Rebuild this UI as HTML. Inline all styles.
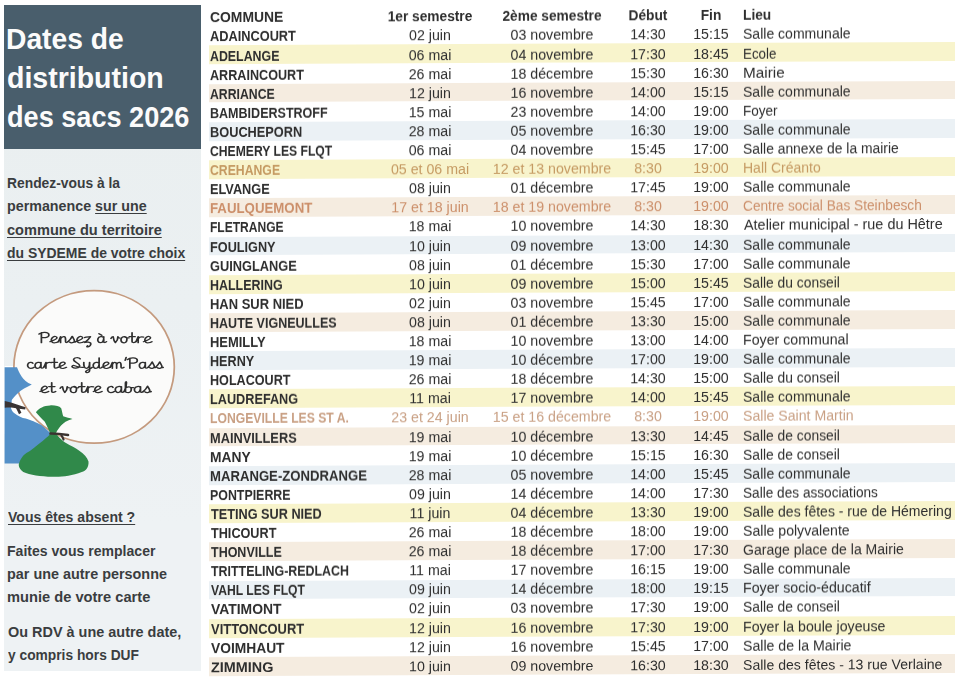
<!DOCTYPE html><html><head><meta charset="utf-8"><style>
html,body{margin:0;padding:0;background:#fff;width:960px;height:677px;overflow:hidden;position:relative}
.t{position:absolute;white-space:pre;font-family:"Liberation Sans",sans-serif;line-height:normal}
.b{font-weight:bold}

</style></head><body><div style="position:absolute;left:0;top:0;width:960px;height:677px;filter:blur(0.35px)">
<div style="position:absolute;left:4.2px;top:5px;width:197px;height:666px;background:linear-gradient(#f1f4f5 0px, #eaeff0 120px, #ebf0f2 300px, #eef2f4 520px)"></div>
<div style="position:absolute;left:4.2px;top:5px;width:197px;height:143.8px;background:#495e6c"></div>
<div class="t b" style="left:6.09px;top:22.89px;font-size:28.6px;color:#fbfbfb;transform:scaleX(0.9878);transform-origin:0 0">Dates de</div>
<div class="t b" style="left:6.94px;top:62.49px;font-size:28.6px;color:#fbfbfb;transform:scaleX(0.9971);transform-origin:0 0">distribution</div>
<div class="t b" style="left:6.99px;top:101.09px;font-size:28.6px;color:#fbfbfb;transform:scaleX(0.9481);transform-origin:0 0">des sacs 2026</div>
<div class="t b" style="left:7.07px;top:174.68px;font-size:14.8px;color:#3a3d3f;transform:scaleX(0.9352);transform-origin:0 0">Rendez-vous à la</div>
<div class="t b" style="left:7.04px;top:198.43px;font-size:14.8px;color:#3a3d3f;transform:scaleX(0.9651);transform-origin:0 0">permanence <span style="text-decoration:underline;text-decoration-thickness:1px;text-underline-offset:2px">sur une</span></div>
<div class="t b" style="left:7.28px;top:221.98px;font-size:14.8px;color:#3a3d3f;transform:scaleX(0.9854);transform-origin:0 0"><span style="text-decoration:underline;text-decoration-thickness:1px;text-underline-offset:2px">commune du territoire</span></div>
<div class="t b" style="left:7.26px;top:244.88px;font-size:14.8px;color:#3a3d3f;transform:scaleX(0.9421);transform-origin:0 0"><span style="text-decoration:underline;text-decoration-thickness:1px;text-underline-offset:2px">du SYDEME de votre choix</span></div>
<div class="t b" style="left:8.33px;top:509.28px;font-size:14.8px;color:#3a3d3f;transform:scaleX(0.9508);transform-origin:0 0"><span style="text-decoration:underline;text-decoration-thickness:1px;text-underline-offset:2px">Vous êtes absent ?</span></div>
<div class="t b" style="left:7.46px;top:542.98px;font-size:14.8px;color:#3a3d3f;transform:scaleX(0.9498);transform-origin:0 0">Faites vous remplacer</div>
<div class="t b" style="left:7.44px;top:565.58px;font-size:14.8px;color:#3a3d3f;transform:scaleX(0.9727);transform-origin:0 0">par une autre personne</div>
<div class="t b" style="left:7.40px;top:588.98px;font-size:14.8px;color:#3a3d3f;transform:scaleX(0.9903);transform-origin:0 0">munie de votre carte</div>
<div class="t b" style="left:7.65px;top:624.08px;font-size:14.8px;color:#3a3d3f;transform:scaleX(0.9758);transform-origin:0 0">Ou RDV à une autre date,</div>
<div class="t b" style="left:8.33px;top:646.68px;font-size:14.8px;color:#3a3d3f;transform:scaleX(0.9316);transform-origin:0 0">y compris hors DUF</div>
<div style="position:absolute;left:0;top:0;width:960px;height:677px;transform:skewY(-0.25deg);transform-origin:240px 0">
<div style="position:absolute;left:209px;top:45.47px;width:745.5px;height:18.80px;background:#f8f4cc"></div>
<div style="position:absolute;left:209px;top:83.69px;width:745.5px;height:18.80px;background:#f5ece0"></div>
<div style="position:absolute;left:209px;top:121.91px;width:745.5px;height:18.80px;background:#ebf1f5"></div>
<div style="position:absolute;left:209px;top:160.13px;width:745.5px;height:18.80px;background:#f8f4cc"></div>
<div style="position:absolute;left:209px;top:198.35px;width:745.5px;height:18.80px;background:#f5ece0"></div>
<div style="position:absolute;left:209px;top:236.57px;width:745.5px;height:18.80px;background:#ebf1f5"></div>
<div style="position:absolute;left:209px;top:274.79px;width:745.5px;height:18.80px;background:#f8f4cc"></div>
<div style="position:absolute;left:209px;top:313.01px;width:745.5px;height:18.80px;background:#f5ece0"></div>
<div style="position:absolute;left:209px;top:351.24px;width:745.5px;height:18.80px;background:#ebf1f5"></div>
<div style="position:absolute;left:209px;top:389.46px;width:745.5px;height:18.80px;background:#f8f4cc"></div>
<div style="position:absolute;left:209px;top:427.68px;width:745.5px;height:18.80px;background:#f5ece0"></div>
<div style="position:absolute;left:209px;top:465.90px;width:745.5px;height:18.80px;background:#ebf1f5"></div>
<div style="position:absolute;left:209px;top:504.12px;width:745.5px;height:18.80px;background:#f8f4cc"></div>
<div style="position:absolute;left:209px;top:542.34px;width:745.5px;height:18.80px;background:#f5ece0"></div>
<div style="position:absolute;left:209px;top:580.56px;width:745.5px;height:18.80px;background:#ebf1f5"></div>
<div style="position:absolute;left:209px;top:618.78px;width:745.5px;height:18.80px;background:#f8f4cc"></div>
<div style="position:absolute;left:209px;top:657.00px;width:745.5px;height:18.80px;background:#f5ece0"></div>
<div class="t b" style="left:209.97px;top:9.32px;font-size:14px;color:#2e2e2e;transform:scaleX(0.9923);transform-origin:0 0">COMMUNE</div>
<div class="t b" style="left:280.3px;width:300px;text-align:center;top:9.32px;font-size:14px;color:#2e2e2e;transform:scaleX(0.9800)">1er semestre</div>
<div class="t b" style="left:402.1px;width:300px;text-align:center;top:9.32px;font-size:14px;color:#2e2e2e;transform:scaleX(0.9800)">2ème semestre</div>
<div class="t b" style="left:498.20000000000005px;width:300px;text-align:center;top:9.32px;font-size:14px;color:#2e2e2e;transform:scaleX(0.9800)">Début</div>
<div class="t b" style="left:561px;width:300px;text-align:center;top:9.32px;font-size:14px;color:#2e2e2e;transform:scaleX(0.9800)">Fin</div>
<div class="t b" style="left:743.00px;top:9.32px;font-size:14px;color:#2e2e2e;transform:scaleX(0.9800);transform-origin:0 0">Lieu</div>
<div class="t b" style="left:210.08px;top:28.42px;font-size:14px;color:#2e2e2e;transform:scaleX(0.9129);transform-origin:0 0">ADAINCOURT</div>
<div class="t" style="left:280.3px;width:300px;text-align:center;top:28.42px;font-size:14px;color:#2e2e2e;transform:scaleX(1.0150)">02 juin</div>
<div class="t" style="left:402.1px;width:300px;text-align:center;top:28.42px;font-size:14px;color:#2e2e2e;transform:scaleX(1.0150)">03 novembre</div>
<div class="t" style="left:498.20000000000005px;width:300px;text-align:center;top:28.42px;font-size:14px;color:#2e2e2e;transform:scaleX(1.0150)">14:30</div>
<div class="t" style="left:561px;width:300px;text-align:center;top:28.42px;font-size:14px;color:#2e2e2e;transform:scaleX(1.0150)">15:15</div>
<div class="t" style="left:743.14px;top:28.42px;font-size:14px;color:#2e2e2e;transform:scaleX(1.0022);transform-origin:0 0">Salle communale</div>
<div class="t b" style="left:210.10px;top:47.52px;font-size:14px;color:#2e2e2e;transform:scaleX(0.8838);transform-origin:0 0">ADELANGE</div>
<div class="t" style="left:280.3px;width:300px;text-align:center;top:47.52px;font-size:14px;color:#2e2e2e;transform:scaleX(1.0150)">06 mai</div>
<div class="t" style="left:402.1px;width:300px;text-align:center;top:47.52px;font-size:14px;color:#2e2e2e;transform:scaleX(1.0150)">04 novembre</div>
<div class="t" style="left:498.20000000000005px;width:300px;text-align:center;top:47.52px;font-size:14px;color:#2e2e2e;transform:scaleX(1.0150)">17:30</div>
<div class="t" style="left:561px;width:300px;text-align:center;top:47.52px;font-size:14px;color:#2e2e2e;transform:scaleX(1.0150)">18:45</div>
<div class="t" style="left:743.11px;top:47.52px;font-size:14px;color:#2e2e2e;transform:scaleX(0.9542);transform-origin:0 0">Ecole</div>
<div class="t b" style="left:210.09px;top:66.62px;font-size:14px;color:#2e2e2e;transform:scaleX(0.9005);transform-origin:0 0">ARRAINCOURT</div>
<div class="t" style="left:280.3px;width:300px;text-align:center;top:66.62px;font-size:14px;color:#2e2e2e;transform:scaleX(1.0150)">26 mai</div>
<div class="t" style="left:402.1px;width:300px;text-align:center;top:66.62px;font-size:14px;color:#2e2e2e;transform:scaleX(1.0150)">18 décembre</div>
<div class="t" style="left:498.20000000000005px;width:300px;text-align:center;top:66.62px;font-size:14px;color:#2e2e2e;transform:scaleX(1.0150)">15:30</div>
<div class="t" style="left:561px;width:300px;text-align:center;top:66.62px;font-size:14px;color:#2e2e2e;transform:scaleX(1.0150)">16:30</div>
<div class="t" style="left:742.98px;top:66.62px;font-size:14px;color:#2e2e2e;transform:scaleX(1.0920);transform-origin:0 0">Mairie</div>
<div class="t b" style="left:210.10px;top:85.72px;font-size:14px;color:#2e2e2e;transform:scaleX(0.8761);transform-origin:0 0">ARRIANCE</div>
<div class="t" style="left:280.3px;width:300px;text-align:center;top:85.72px;font-size:14px;color:#2e2e2e;transform:scaleX(1.0150)">12 juin</div>
<div class="t" style="left:402.1px;width:300px;text-align:center;top:85.72px;font-size:14px;color:#2e2e2e;transform:scaleX(1.0150)">16 novembre</div>
<div class="t" style="left:498.20000000000005px;width:300px;text-align:center;top:85.72px;font-size:14px;color:#2e2e2e;transform:scaleX(1.0150)">14:00</div>
<div class="t" style="left:561px;width:300px;text-align:center;top:85.72px;font-size:14px;color:#2e2e2e;transform:scaleX(1.0150)">15:15</div>
<div class="t" style="left:743.14px;top:85.72px;font-size:14px;color:#2e2e2e;transform:scaleX(1.0022);transform-origin:0 0">Salle communale</div>
<div class="t b" style="left:209.84px;top:104.82px;font-size:14px;color:#2e2e2e;transform:scaleX(0.8954);transform-origin:0 0">BAMBIDERSTROFF</div>
<div class="t" style="left:280.3px;width:300px;text-align:center;top:104.82px;font-size:14px;color:#2e2e2e;transform:scaleX(1.0150)">15 mai</div>
<div class="t" style="left:402.1px;width:300px;text-align:center;top:104.82px;font-size:14px;color:#2e2e2e;transform:scaleX(1.0150)">23 novembre</div>
<div class="t" style="left:498.20000000000005px;width:300px;text-align:center;top:104.82px;font-size:14px;color:#2e2e2e;transform:scaleX(1.0150)">14:00</div>
<div class="t" style="left:561px;width:300px;text-align:center;top:104.82px;font-size:14px;color:#2e2e2e;transform:scaleX(1.0150)">19:00</div>
<div class="t" style="left:743.09px;top:104.82px;font-size:14px;color:#2e2e2e;transform:scaleX(0.9666);transform-origin:0 0">Foyer</div>
<div class="t b" style="left:209.82px;top:123.92px;font-size:14px;color:#2e2e2e;transform:scaleX(0.9121);transform-origin:0 0">BOUCHEPORN</div>
<div class="t" style="left:280.3px;width:300px;text-align:center;top:123.92px;font-size:14px;color:#2e2e2e;transform:scaleX(1.0150)">28 mai</div>
<div class="t" style="left:402.1px;width:300px;text-align:center;top:123.92px;font-size:14px;color:#2e2e2e;transform:scaleX(1.0150)">05 novembre</div>
<div class="t" style="left:498.20000000000005px;width:300px;text-align:center;top:123.92px;font-size:14px;color:#2e2e2e;transform:scaleX(1.0150)">16:30</div>
<div class="t" style="left:561px;width:300px;text-align:center;top:123.92px;font-size:14px;color:#2e2e2e;transform:scaleX(1.0150)">19:00</div>
<div class="t" style="left:743.14px;top:123.92px;font-size:14px;color:#2e2e2e;transform:scaleX(1.0022);transform-origin:0 0">Salle communale</div>
<div class="t b" style="left:210.05px;top:143.02px;font-size:14px;color:#2e2e2e;transform:scaleX(0.8683);transform-origin:0 0">CHEMERY LES FLQT</div>
<div class="t" style="left:280.3px;width:300px;text-align:center;top:143.02px;font-size:14px;color:#2e2e2e;transform:scaleX(1.0150)">06 mai</div>
<div class="t" style="left:402.1px;width:300px;text-align:center;top:143.02px;font-size:14px;color:#2e2e2e;transform:scaleX(1.0150)">04 novembre</div>
<div class="t" style="left:498.20000000000005px;width:300px;text-align:center;top:143.02px;font-size:14px;color:#2e2e2e;transform:scaleX(1.0150)">15:45</div>
<div class="t" style="left:561px;width:300px;text-align:center;top:143.02px;font-size:14px;color:#2e2e2e;transform:scaleX(1.0150)">17:00</div>
<div class="t" style="left:743.15px;top:143.02px;font-size:14px;color:#2e2e2e;transform:scaleX(0.9906);transform-origin:0 0">Salle annexe de la mairie</div>
<div class="t b" style="left:210.05px;top:162.12px;font-size:14px;color:#c59a62;transform:scaleX(0.8742);transform-origin:0 0">CREHANGE</div>
<div class="t" style="left:280.3px;width:300px;text-align:center;top:162.12px;font-size:14px;color:#c59a62;transform:scaleX(1.0150)">05 et 06 mai</div>
<div class="t" style="left:402.1px;width:300px;text-align:center;top:162.12px;font-size:14px;color:#c59a62;transform:scaleX(1.0150)">12 et 13 novembre</div>
<div class="t" style="left:498.20000000000005px;width:300px;text-align:center;top:162.12px;font-size:14px;color:#c59a62;transform:scaleX(1.0150)">8:30</div>
<div class="t" style="left:561px;width:300px;text-align:center;top:162.12px;font-size:14px;color:#c59a62;transform:scaleX(1.0150)">19:00</div>
<div class="t" style="left:743.06px;top:162.12px;font-size:14px;color:#c59a62;transform:scaleX(0.9993);transform-origin:0 0">Hall Créanto</div>
<div class="t b" style="left:209.82px;top:181.22px;font-size:14px;color:#2e2e2e;transform:scaleX(0.9108);transform-origin:0 0">ELVANGE</div>
<div class="t" style="left:280.3px;width:300px;text-align:center;top:181.22px;font-size:14px;color:#2e2e2e;transform:scaleX(1.0150)">08 juin</div>
<div class="t" style="left:402.1px;width:300px;text-align:center;top:181.22px;font-size:14px;color:#2e2e2e;transform:scaleX(1.0150)">01 décembre</div>
<div class="t" style="left:498.20000000000005px;width:300px;text-align:center;top:181.22px;font-size:14px;color:#2e2e2e;transform:scaleX(1.0150)">17:45</div>
<div class="t" style="left:561px;width:300px;text-align:center;top:181.22px;font-size:14px;color:#2e2e2e;transform:scaleX(1.0150)">19:00</div>
<div class="t" style="left:743.14px;top:181.22px;font-size:14px;color:#2e2e2e;transform:scaleX(1.0022);transform-origin:0 0">Salle communale</div>
<div class="t b" style="left:209.79px;top:200.32px;font-size:14px;color:#cc8f6a;transform:scaleX(0.9462);transform-origin:0 0">FAULQUEMONT</div>
<div class="t" style="left:280.3px;width:300px;text-align:center;top:200.32px;font-size:14px;color:#cc8f6a;transform:scaleX(1.0150)">17 et 18 juin</div>
<div class="t" style="left:402.1px;width:300px;text-align:center;top:200.32px;font-size:14px;color:#cc8f6a;transform:scaleX(1.0150)">18 et 19 novembre</div>
<div class="t" style="left:498.20000000000005px;width:300px;text-align:center;top:200.32px;font-size:14px;color:#cc8f6a;transform:scaleX(1.0150)">8:30</div>
<div class="t" style="left:561px;width:300px;text-align:center;top:200.32px;font-size:14px;color:#cc8f6a;transform:scaleX(1.0150)">19:00</div>
<div class="t" style="left:743.27px;top:200.32px;font-size:14px;color:#cc8f6a;transform:scaleX(0.9776);transform-origin:0 0">Centre social Bas Steinbesch</div>
<div class="t b" style="left:209.87px;top:219.42px;font-size:14px;color:#2e2e2e;transform:scaleX(0.8608);transform-origin:0 0">FLETRANGE</div>
<div class="t" style="left:280.3px;width:300px;text-align:center;top:219.42px;font-size:14px;color:#2e2e2e;transform:scaleX(1.0150)">18 mai</div>
<div class="t" style="left:402.1px;width:300px;text-align:center;top:219.42px;font-size:14px;color:#2e2e2e;transform:scaleX(1.0150)">10 novembre</div>
<div class="t" style="left:498.20000000000005px;width:300px;text-align:center;top:219.42px;font-size:14px;color:#2e2e2e;transform:scaleX(1.0150)">14:30</div>
<div class="t" style="left:561px;width:300px;text-align:center;top:219.42px;font-size:14px;color:#2e2e2e;transform:scaleX(1.0150)">18:30</div>
<div class="t" style="left:744.04px;top:219.42px;font-size:14px;color:#2e2e2e;transform:scaleX(1.0295);transform-origin:0 0">Atelier municipal - rue du Hêtre</div>
<div class="t b" style="left:209.83px;top:238.52px;font-size:14px;color:#2e2e2e;transform:scaleX(0.9067);transform-origin:0 0">FOULIGNY</div>
<div class="t" style="left:280.3px;width:300px;text-align:center;top:238.52px;font-size:14px;color:#2e2e2e;transform:scaleX(1.0150)">10 juin</div>
<div class="t" style="left:402.1px;width:300px;text-align:center;top:238.52px;font-size:14px;color:#2e2e2e;transform:scaleX(1.0150)">09 novembre</div>
<div class="t" style="left:498.20000000000005px;width:300px;text-align:center;top:238.52px;font-size:14px;color:#2e2e2e;transform:scaleX(1.0150)">13:00</div>
<div class="t" style="left:561px;width:300px;text-align:center;top:238.52px;font-size:14px;color:#2e2e2e;transform:scaleX(1.0150)">14:30</div>
<div class="t" style="left:743.14px;top:238.52px;font-size:14px;color:#2e2e2e;transform:scaleX(1.0022);transform-origin:0 0">Salle communale</div>
<div class="t b" style="left:210.02px;top:257.62px;font-size:14px;color:#2e2e2e;transform:scaleX(0.9151);transform-origin:0 0">GUINGLANGE</div>
<div class="t" style="left:280.3px;width:300px;text-align:center;top:257.62px;font-size:14px;color:#2e2e2e;transform:scaleX(1.0150)">08 juin</div>
<div class="t" style="left:402.1px;width:300px;text-align:center;top:257.62px;font-size:14px;color:#2e2e2e;transform:scaleX(1.0150)">01 décembre</div>
<div class="t" style="left:498.20000000000005px;width:300px;text-align:center;top:257.62px;font-size:14px;color:#2e2e2e;transform:scaleX(1.0150)">15:30</div>
<div class="t" style="left:561px;width:300px;text-align:center;top:257.62px;font-size:14px;color:#2e2e2e;transform:scaleX(1.0150)">17:00</div>
<div class="t" style="left:743.14px;top:257.62px;font-size:14px;color:#2e2e2e;transform:scaleX(1.0022);transform-origin:0 0">Salle communale</div>
<div class="t b" style="left:209.84px;top:276.72px;font-size:14px;color:#2e2e2e;transform:scaleX(0.8901);transform-origin:0 0">HALLERING</div>
<div class="t" style="left:280.3px;width:300px;text-align:center;top:276.72px;font-size:14px;color:#2e2e2e;transform:scaleX(1.0150)">10 juin</div>
<div class="t" style="left:402.1px;width:300px;text-align:center;top:276.72px;font-size:14px;color:#2e2e2e;transform:scaleX(1.0150)">09 novembre</div>
<div class="t" style="left:498.20000000000005px;width:300px;text-align:center;top:276.72px;font-size:14px;color:#2e2e2e;transform:scaleX(1.0150)">15:00</div>
<div class="t" style="left:561px;width:300px;text-align:center;top:276.72px;font-size:14px;color:#2e2e2e;transform:scaleX(1.0150)">15:45</div>
<div class="t" style="left:743.15px;top:276.72px;font-size:14px;color:#2e2e2e;transform:scaleX(0.9882);transform-origin:0 0">Salle du conseil</div>
<div class="t b" style="left:209.81px;top:295.82px;font-size:14px;color:#2e2e2e;transform:scaleX(0.9255);transform-origin:0 0">HAN SUR NIED</div>
<div class="t" style="left:280.3px;width:300px;text-align:center;top:295.82px;font-size:14px;color:#2e2e2e;transform:scaleX(1.0150)">02 juin</div>
<div class="t" style="left:402.1px;width:300px;text-align:center;top:295.82px;font-size:14px;color:#2e2e2e;transform:scaleX(1.0150)">03 novembre</div>
<div class="t" style="left:498.20000000000005px;width:300px;text-align:center;top:295.82px;font-size:14px;color:#2e2e2e;transform:scaleX(1.0150)">15:45</div>
<div class="t" style="left:561px;width:300px;text-align:center;top:295.82px;font-size:14px;color:#2e2e2e;transform:scaleX(1.0150)">17:00</div>
<div class="t" style="left:743.14px;top:295.82px;font-size:14px;color:#2e2e2e;transform:scaleX(1.0022);transform-origin:0 0">Salle communale</div>
<div class="t b" style="left:209.84px;top:314.92px;font-size:14px;color:#2e2e2e;transform:scaleX(0.8943);transform-origin:0 0">HAUTE VIGNEULLES</div>
<div class="t" style="left:280.3px;width:300px;text-align:center;top:314.92px;font-size:14px;color:#2e2e2e;transform:scaleX(1.0150)">08 juin</div>
<div class="t" style="left:402.1px;width:300px;text-align:center;top:314.92px;font-size:14px;color:#2e2e2e;transform:scaleX(1.0150)">01 décembre</div>
<div class="t" style="left:498.20000000000005px;width:300px;text-align:center;top:314.92px;font-size:14px;color:#2e2e2e;transform:scaleX(1.0150)">13:30</div>
<div class="t" style="left:561px;width:300px;text-align:center;top:314.92px;font-size:14px;color:#2e2e2e;transform:scaleX(1.0150)">15:00</div>
<div class="t" style="left:743.14px;top:314.92px;font-size:14px;color:#2e2e2e;transform:scaleX(1.0022);transform-origin:0 0">Salle communale</div>
<div class="t b" style="left:209.81px;top:334.02px;font-size:14px;color:#2e2e2e;transform:scaleX(0.9227);transform-origin:0 0">HEMILLY</div>
<div class="t" style="left:280.3px;width:300px;text-align:center;top:334.02px;font-size:14px;color:#2e2e2e;transform:scaleX(1.0150)">18 mai</div>
<div class="t" style="left:402.1px;width:300px;text-align:center;top:334.02px;font-size:14px;color:#2e2e2e;transform:scaleX(1.0150)">10 novembre</div>
<div class="t" style="left:498.20000000000005px;width:300px;text-align:center;top:334.02px;font-size:14px;color:#2e2e2e;transform:scaleX(1.0150)">13:00</div>
<div class="t" style="left:561px;width:300px;text-align:center;top:334.02px;font-size:14px;color:#2e2e2e;transform:scaleX(1.0150)">14:00</div>
<div class="t" style="left:743.05px;top:334.02px;font-size:14px;color:#2e2e2e;transform:scaleX(1.0129);transform-origin:0 0">Foyer communal</div>
<div class="t b" style="left:209.83px;top:353.12px;font-size:14px;color:#2e2e2e;transform:scaleX(0.9009);transform-origin:0 0">HERNY</div>
<div class="t" style="left:280.3px;width:300px;text-align:center;top:353.12px;font-size:14px;color:#2e2e2e;transform:scaleX(1.0150)">19 mai</div>
<div class="t" style="left:402.1px;width:300px;text-align:center;top:353.12px;font-size:14px;color:#2e2e2e;transform:scaleX(1.0150)">10 décembre</div>
<div class="t" style="left:498.20000000000005px;width:300px;text-align:center;top:353.12px;font-size:14px;color:#2e2e2e;transform:scaleX(1.0150)">17:00</div>
<div class="t" style="left:561px;width:300px;text-align:center;top:353.12px;font-size:14px;color:#2e2e2e;transform:scaleX(1.0150)">19:00</div>
<div class="t" style="left:743.14px;top:353.12px;font-size:14px;color:#2e2e2e;transform:scaleX(1.0022);transform-origin:0 0">Salle communale</div>
<div class="t b" style="left:209.83px;top:372.22px;font-size:14px;color:#2e2e2e;transform:scaleX(0.9004);transform-origin:0 0">HOLACOURT</div>
<div class="t" style="left:280.3px;width:300px;text-align:center;top:372.22px;font-size:14px;color:#2e2e2e;transform:scaleX(1.0150)">26 mai</div>
<div class="t" style="left:402.1px;width:300px;text-align:center;top:372.22px;font-size:14px;color:#2e2e2e;transform:scaleX(1.0150)">18 décembre</div>
<div class="t" style="left:498.20000000000005px;width:300px;text-align:center;top:372.22px;font-size:14px;color:#2e2e2e;transform:scaleX(1.0150)">14:30</div>
<div class="t" style="left:561px;width:300px;text-align:center;top:372.22px;font-size:14px;color:#2e2e2e;transform:scaleX(1.0150)">15:00</div>
<div class="t" style="left:743.15px;top:372.22px;font-size:14px;color:#2e2e2e;transform:scaleX(0.9882);transform-origin:0 0">Salle du conseil</div>
<div class="t b" style="left:209.83px;top:391.32px;font-size:14px;color:#2e2e2e;transform:scaleX(0.9067);transform-origin:0 0">LAUDREFANG</div>
<div class="t" style="left:280.3px;width:300px;text-align:center;top:391.32px;font-size:14px;color:#2e2e2e;transform:scaleX(1.0150)">11 mai</div>
<div class="t" style="left:402.1px;width:300px;text-align:center;top:391.32px;font-size:14px;color:#2e2e2e;transform:scaleX(1.0150)">17 novembre</div>
<div class="t" style="left:498.20000000000005px;width:300px;text-align:center;top:391.32px;font-size:14px;color:#2e2e2e;transform:scaleX(1.0150)">14:00</div>
<div class="t" style="left:561px;width:300px;text-align:center;top:391.32px;font-size:14px;color:#2e2e2e;transform:scaleX(1.0150)">15:45</div>
<div class="t" style="left:743.14px;top:391.32px;font-size:14px;color:#2e2e2e;transform:scaleX(1.0022);transform-origin:0 0">Salle communale</div>
<div class="t b" style="left:209.86px;top:410.42px;font-size:14px;color:#c9a084;transform:scaleX(0.8698);transform-origin:0 0">LONGEVILLE LES ST A.</div>
<div class="t" style="left:280.3px;width:300px;text-align:center;top:410.42px;font-size:14px;color:#c9a084;transform:scaleX(1.0150)">23 et 24 juin</div>
<div class="t" style="left:402.1px;width:300px;text-align:center;top:410.42px;font-size:14px;color:#c9a084;transform:scaleX(1.0150)">15 et 16 décembre</div>
<div class="t" style="left:498.20000000000005px;width:300px;text-align:center;top:410.42px;font-size:14px;color:#c9a084;transform:scaleX(1.0150)">8:30</div>
<div class="t" style="left:561px;width:300px;text-align:center;top:410.42px;font-size:14px;color:#c9a084;transform:scaleX(1.0150)">19:00</div>
<div class="t" style="left:743.13px;top:410.42px;font-size:14px;color:#c9a084;transform:scaleX(1.0087);transform-origin:0 0">Salle Saint Martin</div>
<div class="t b" style="left:209.82px;top:429.52px;font-size:14px;color:#2e2e2e;transform:scaleX(0.9133);transform-origin:0 0">MAINVILLERS</div>
<div class="t" style="left:280.3px;width:300px;text-align:center;top:429.52px;font-size:14px;color:#2e2e2e;transform:scaleX(1.0150)">19 mai</div>
<div class="t" style="left:402.1px;width:300px;text-align:center;top:429.52px;font-size:14px;color:#2e2e2e;transform:scaleX(1.0150)">10 décembre</div>
<div class="t" style="left:498.20000000000005px;width:300px;text-align:center;top:429.52px;font-size:14px;color:#2e2e2e;transform:scaleX(1.0150)">13:30</div>
<div class="t" style="left:561px;width:300px;text-align:center;top:429.52px;font-size:14px;color:#2e2e2e;transform:scaleX(1.0150)">14:45</div>
<div class="t" style="left:743.15px;top:429.52px;font-size:14px;color:#2e2e2e;transform:scaleX(0.9882);transform-origin:0 0">Salle de conseil</div>
<div class="t b" style="left:209.76px;top:448.62px;font-size:14px;color:#2e2e2e;transform:scaleX(0.9863);transform-origin:0 0">MANY</div>
<div class="t" style="left:280.3px;width:300px;text-align:center;top:448.62px;font-size:14px;color:#2e2e2e;transform:scaleX(1.0150)">19 mai</div>
<div class="t" style="left:402.1px;width:300px;text-align:center;top:448.62px;font-size:14px;color:#2e2e2e;transform:scaleX(1.0150)">10 décembre</div>
<div class="t" style="left:498.20000000000005px;width:300px;text-align:center;top:448.62px;font-size:14px;color:#2e2e2e;transform:scaleX(1.0150)">15:15</div>
<div class="t" style="left:561px;width:300px;text-align:center;top:448.62px;font-size:14px;color:#2e2e2e;transform:scaleX(1.0150)">16:30</div>
<div class="t" style="left:743.15px;top:448.62px;font-size:14px;color:#2e2e2e;transform:scaleX(0.9882);transform-origin:0 0">Salle de conseil</div>
<div class="t b" style="left:209.80px;top:467.72px;font-size:14px;color:#2e2e2e;transform:scaleX(0.9385);transform-origin:0 0">MARANGE-ZONDRANGE</div>
<div class="t" style="left:280.3px;width:300px;text-align:center;top:467.72px;font-size:14px;color:#2e2e2e;transform:scaleX(1.0150)">28 mai</div>
<div class="t" style="left:402.1px;width:300px;text-align:center;top:467.72px;font-size:14px;color:#2e2e2e;transform:scaleX(1.0150)">05 novembre</div>
<div class="t" style="left:498.20000000000005px;width:300px;text-align:center;top:467.72px;font-size:14px;color:#2e2e2e;transform:scaleX(1.0150)">14:00</div>
<div class="t" style="left:561px;width:300px;text-align:center;top:467.72px;font-size:14px;color:#2e2e2e;transform:scaleX(1.0150)">15:45</div>
<div class="t" style="left:743.14px;top:467.72px;font-size:14px;color:#2e2e2e;transform:scaleX(1.0022);transform-origin:0 0">Salle communale</div>
<div class="t b" style="left:209.85px;top:486.82px;font-size:14px;color:#2e2e2e;transform:scaleX(0.8850);transform-origin:0 0">PONTPIERRE</div>
<div class="t" style="left:280.3px;width:300px;text-align:center;top:486.82px;font-size:14px;color:#2e2e2e;transform:scaleX(1.0150)">09 juin</div>
<div class="t" style="left:402.1px;width:300px;text-align:center;top:486.82px;font-size:14px;color:#2e2e2e;transform:scaleX(1.0150)">14 décembre</div>
<div class="t" style="left:498.20000000000005px;width:300px;text-align:center;top:486.82px;font-size:14px;color:#2e2e2e;transform:scaleX(1.0150)">14:00</div>
<div class="t" style="left:561px;width:300px;text-align:center;top:486.82px;font-size:14px;color:#2e2e2e;transform:scaleX(1.0150)">17:30</div>
<div class="t" style="left:743.16px;top:486.82px;font-size:14px;color:#2e2e2e;transform:scaleX(0.9738);transform-origin:0 0">Salle des associations</div>
<div class="t b" style="left:210.66px;top:505.92px;font-size:14px;color:#2e2e2e;transform:scaleX(0.9069);transform-origin:0 0">TETING SUR NIED</div>
<div class="t" style="left:280.3px;width:300px;text-align:center;top:505.92px;font-size:14px;color:#2e2e2e;transform:scaleX(1.0150)">11 juin</div>
<div class="t" style="left:402.1px;width:300px;text-align:center;top:505.92px;font-size:14px;color:#2e2e2e;transform:scaleX(1.0150)">04 décembre</div>
<div class="t" style="left:498.20000000000005px;width:300px;text-align:center;top:505.92px;font-size:14px;color:#2e2e2e;transform:scaleX(1.0150)">13:30</div>
<div class="t" style="left:561px;width:300px;text-align:center;top:505.92px;font-size:14px;color:#2e2e2e;transform:scaleX(1.0150)">19:00</div>
<div class="t" style="left:743.14px;top:505.92px;font-size:14px;color:#2e2e2e;transform:scaleX(1.0006);transform-origin:0 0">Salle des fêtes - rue de Hémering</div>
<div class="t b" style="left:210.66px;top:525.02px;font-size:14px;color:#2e2e2e;transform:scaleX(0.9039);transform-origin:0 0">THICOURT</div>
<div class="t" style="left:280.3px;width:300px;text-align:center;top:525.02px;font-size:14px;color:#2e2e2e;transform:scaleX(1.0150)">26 mai</div>
<div class="t" style="left:402.1px;width:300px;text-align:center;top:525.02px;font-size:14px;color:#2e2e2e;transform:scaleX(1.0150)">18 décembre</div>
<div class="t" style="left:498.20000000000005px;width:300px;text-align:center;top:525.02px;font-size:14px;color:#2e2e2e;transform:scaleX(1.0150)">18:00</div>
<div class="t" style="left:561px;width:300px;text-align:center;top:525.02px;font-size:14px;color:#2e2e2e;transform:scaleX(1.0150)">19:00</div>
<div class="t" style="left:743.13px;top:525.02px;font-size:14px;color:#2e2e2e;transform:scaleX(1.0077);transform-origin:0 0">Salle polyvalente</div>
<div class="t b" style="left:210.66px;top:544.12px;font-size:14px;color:#2e2e2e;transform:scaleX(0.8921);transform-origin:0 0">THONVILLE</div>
<div class="t" style="left:280.3px;width:300px;text-align:center;top:544.12px;font-size:14px;color:#2e2e2e;transform:scaleX(1.0150)">26 mai</div>
<div class="t" style="left:402.1px;width:300px;text-align:center;top:544.12px;font-size:14px;color:#2e2e2e;transform:scaleX(1.0150)">18 décembre</div>
<div class="t" style="left:498.20000000000005px;width:300px;text-align:center;top:544.12px;font-size:14px;color:#2e2e2e;transform:scaleX(1.0150)">17:00</div>
<div class="t" style="left:561px;width:300px;text-align:center;top:544.12px;font-size:14px;color:#2e2e2e;transform:scaleX(1.0150)">17:30</div>
<div class="t" style="left:743.26px;top:544.12px;font-size:14px;color:#2e2e2e;transform:scaleX(1.0032);transform-origin:0 0">Garage place de la Mairie</div>
<div class="t b" style="left:210.66px;top:563.22px;font-size:14px;color:#2e2e2e;transform:scaleX(0.8872);transform-origin:0 0">TRITTELING-REDLACH</div>
<div class="t" style="left:280.3px;width:300px;text-align:center;top:563.22px;font-size:14px;color:#2e2e2e;transform:scaleX(1.0150)">11 mai</div>
<div class="t" style="left:402.1px;width:300px;text-align:center;top:563.22px;font-size:14px;color:#2e2e2e;transform:scaleX(1.0150)">17 novembre</div>
<div class="t" style="left:498.20000000000005px;width:300px;text-align:center;top:563.22px;font-size:14px;color:#2e2e2e;transform:scaleX(1.0150)">16:15</div>
<div class="t" style="left:561px;width:300px;text-align:center;top:563.22px;font-size:14px;color:#2e2e2e;transform:scaleX(1.0150)">19:00</div>
<div class="t" style="left:743.14px;top:563.22px;font-size:14px;color:#2e2e2e;transform:scaleX(1.0022);transform-origin:0 0">Salle communale</div>
<div class="t b" style="left:210.63px;top:582.32px;font-size:14px;color:#2e2e2e;transform:scaleX(0.8668);transform-origin:0 0">VAHL LES FLQT</div>
<div class="t" style="left:280.3px;width:300px;text-align:center;top:582.32px;font-size:14px;color:#2e2e2e;transform:scaleX(1.0150)">09 juin</div>
<div class="t" style="left:402.1px;width:300px;text-align:center;top:582.32px;font-size:14px;color:#2e2e2e;transform:scaleX(1.0150)">14 décembre</div>
<div class="t" style="left:498.20000000000005px;width:300px;text-align:center;top:582.32px;font-size:14px;color:#2e2e2e;transform:scaleX(1.0150)">18:00</div>
<div class="t" style="left:561px;width:300px;text-align:center;top:582.32px;font-size:14px;color:#2e2e2e;transform:scaleX(1.0150)">19:15</div>
<div class="t" style="left:743.05px;top:582.32px;font-size:14px;color:#2e2e2e;transform:scaleX(1.0131);transform-origin:0 0">Foyer socio-éducatif</div>
<div class="t b" style="left:210.64px;top:601.42px;font-size:14px;color:#2e2e2e;transform:scaleX(0.9922);transform-origin:0 0">VATIMONT</div>
<div class="t" style="left:280.3px;width:300px;text-align:center;top:601.42px;font-size:14px;color:#2e2e2e;transform:scaleX(1.0150)">02 juin</div>
<div class="t" style="left:402.1px;width:300px;text-align:center;top:601.42px;font-size:14px;color:#2e2e2e;transform:scaleX(1.0150)">03 novembre</div>
<div class="t" style="left:498.20000000000005px;width:300px;text-align:center;top:601.42px;font-size:14px;color:#2e2e2e;transform:scaleX(1.0150)">17:30</div>
<div class="t" style="left:561px;width:300px;text-align:center;top:601.42px;font-size:14px;color:#2e2e2e;transform:scaleX(1.0150)">19:00</div>
<div class="t" style="left:743.15px;top:601.42px;font-size:14px;color:#2e2e2e;transform:scaleX(0.9882);transform-origin:0 0">Salle de conseil</div>
<div class="t b" style="left:210.63px;top:620.52px;font-size:14px;color:#2e2e2e;transform:scaleX(0.9242);transform-origin:0 0">VITTONCOURT</div>
<div class="t" style="left:280.3px;width:300px;text-align:center;top:620.52px;font-size:14px;color:#2e2e2e;transform:scaleX(1.0150)">12 juin</div>
<div class="t" style="left:402.1px;width:300px;text-align:center;top:620.52px;font-size:14px;color:#2e2e2e;transform:scaleX(1.0150)">16 novembre</div>
<div class="t" style="left:498.20000000000005px;width:300px;text-align:center;top:620.52px;font-size:14px;color:#2e2e2e;transform:scaleX(1.0150)">17:30</div>
<div class="t" style="left:561px;width:300px;text-align:center;top:620.52px;font-size:14px;color:#2e2e2e;transform:scaleX(1.0150)">19:00</div>
<div class="t" style="left:743.05px;top:620.52px;font-size:14px;color:#2e2e2e;transform:scaleX(1.0106);transform-origin:0 0">Foyer la boule joyeuse</div>
<div class="t b" style="left:210.63px;top:639.62px;font-size:14px;color:#2e2e2e;transform:scaleX(0.9850);transform-origin:0 0">VOIMHAUT</div>
<div class="t" style="left:280.3px;width:300px;text-align:center;top:639.62px;font-size:14px;color:#2e2e2e;transform:scaleX(1.0150)">12 juin</div>
<div class="t" style="left:402.1px;width:300px;text-align:center;top:639.62px;font-size:14px;color:#2e2e2e;transform:scaleX(1.0150)">16 novembre</div>
<div class="t" style="left:498.20000000000005px;width:300px;text-align:center;top:639.62px;font-size:14px;color:#2e2e2e;transform:scaleX(1.0150)">15:45</div>
<div class="t" style="left:561px;width:300px;text-align:center;top:639.62px;font-size:14px;color:#2e2e2e;transform:scaleX(1.0150)">17:00</div>
<div class="t" style="left:743.13px;top:639.62px;font-size:14px;color:#2e2e2e;transform:scaleX(1.0097);transform-origin:0 0">Salle de la Mairie</div>
<div class="t b" style="left:210.61px;top:658.72px;font-size:14px;color:#2e2e2e;transform:scaleX(1.0287);transform-origin:0 0">ZIMMING</div>
<div class="t" style="left:280.3px;width:300px;text-align:center;top:658.72px;font-size:14px;color:#2e2e2e;transform:scaleX(1.0150)">10 juin</div>
<div class="t" style="left:402.1px;width:300px;text-align:center;top:658.72px;font-size:14px;color:#2e2e2e;transform:scaleX(1.0150)">09 novembre</div>
<div class="t" style="left:498.20000000000005px;width:300px;text-align:center;top:658.72px;font-size:14px;color:#2e2e2e;transform:scaleX(1.0150)">16:30</div>
<div class="t" style="left:561px;width:300px;text-align:center;top:658.72px;font-size:14px;color:#2e2e2e;transform:scaleX(1.0150)">18:30</div>
<div class="t" style="left:743.14px;top:658.72px;font-size:14px;color:#2e2e2e;transform:scaleX(1.0048);transform-origin:0 0">Salle des fêtes - 13 rue Verlaine</div>
</div>
<svg style="position:absolute;left:0;top:0" width="960" height="677" viewBox="0 0 960 677">
<path fill="#ffffff" d="M4.6 366 L34 366 L50 434 L4.6 434 Z"/>
<ellipse cx="94.1" cy="366.9" rx="80.2" ry="76.3" fill="#fbfbfa" stroke="#c49a7e" stroke-width="1.75"/>
<g fill="none" stroke="#2f2f2f" stroke-width="1.25" stroke-linecap="round" stroke-linejoin="round" vector-effect="non-scaling-stroke"><g transform="translate(38.9 342.7) scale(1.3882 1.0)"><path transform="translate(0.00 0)" d="M1.8 0 L1.8 -10 M0 -8.6 C1.8 -11 7.2 -11.2 7.2 -7.8 C7.2 -5.2 4.2 -4.8 1.8 -5.4"/><path transform="translate(8.00 0)" d="M0 -1 C2 -2 5 -3.5 5 -5 C5 -6.3 3.3 -6.6 2.3 -5.8 C0.8 -4.6 0.4 -1.8 1.6 -0.5 C2.6 0.5 4.6 0.1 6 -1"/><path transform="translate(14.00 0)" d="M0 -1 C0.6 -2.5 1.2 -4.5 1.6 -6 L1.6 0 M1.6 -3.8 C2.2 -5.4 3.2 -6.2 4.2 -6 C5.2 -5.8 5.2 -4.6 5.2 -3.2 L5.2 -1.2 C5.2 0 6 0.2 7 -1"/><path transform="translate(21.00 0)" d="M0 -1 C1.2 -2.5 2.4 -4.6 3 -6.4 C3.6 -4.4 4.8 -3 4.6 -1.4 C4.4 0.3 2 0.4 1.2 -0.6 M4.6 -1.2 C4.9 -0.5 5.2 -0.6 5.5 -1"/><path transform="translate(26.50 0)" d="M0 -1 C2 -2 5 -3.5 5 -5 C5 -6.3 3.3 -6.6 2.3 -5.8 C0.8 -4.6 0.4 -1.8 1.6 -0.5 C2.6 0.5 4.6 0.1 6 -1"/><path transform="translate(32.50 0)" d="M0.5 -5.2 C1.5 -6.2 3.2 -5.8 4.6 -6 C3.8 -4.2 2.2 -2 0.6 -0.2 C2.2 -0.8 4.2 -0.6 4.8 0.4 C5.2 2 4.2 4 2.8 4.2 C2 4.3 1.8 3.6 2.6 3"/><path transform="translate(41.70 0)" d="M5 -5 C4.2 -6.6 1.4 -6.4 0.8 -3.8 C0.4 -1.8 1.2 0 2.6 0 C4 0 4.8 -2 5 -4 L5 -6 L5 -1.2 C5 0 6 0.2 7 -1 M1.6 -9 L3.6 -7.4"/><path transform="translate(51.90 0)" d="M0 -4.2 C0.5 -5.5 1 -6 1.6 -6 C1.8 -4 2.2 -1.4 3.2 0 C4.2 -1.2 5 -3.8 5 -6 C5.2 -5 5.8 -4.6 6.5 -4.6"/><path transform="translate(58.40 0)" d="M3 -6 C1.2 -6 0.5 -3.6 0.8 -2 C1 -0.5 2 0.1 3 0.1 C4.4 0.1 5 -2 5 -3.6 C5 -5.2 4 -6.3 3 -6 C3.8 -5 5 -4.6 6.5 -4.8"/><path transform="translate(64.90 0)" d="M2.2 -10 L2.2 -1.2 C2.2 0 3.4 0.2 5 -1 M0.2 -6 L4.4 -6"/><path transform="translate(69.90 0)" d="M0 -1 C0.6 -2.5 1.2 -4.5 1.6 -6 L1.6 0 M1.6 -4 C2.4 -5.6 3.6 -6.2 5.5 -5.6"/><path transform="translate(75.40 0)" d="M0 -1 C2 -2 5 -3.5 5 -5 C5 -6.3 3.3 -6.6 2.3 -5.8 C0.8 -4.6 0.4 -1.8 1.6 -0.5 C2.6 0.5 4.6 0.1 6 -1"/></g><g transform="translate(26.5 368.3) scale(1.3780 1.0)"><path transform="translate(0.00 0)" d="M4.6 -5 C4 -6.6 1.4 -6.3 0.9 -4 C0.5 -2 1.4 0.1 3 0.1 C4 0.1 4.9 -0.4 5.5 -1"/><path transform="translate(5.50 0)" d="M5 -5 C4.2 -6.6 1.4 -6.4 0.8 -3.8 C0.4 -1.8 1.2 0 2.6 0 C4 0 4.8 -2 5 -4 L5 -6 L5 -1.2 C5 0 6 0.2 7 -1"/><path transform="translate(12.50 0)" d="M0 -1 C0.6 -2.5 1.2 -4.5 1.6 -6 L1.6 0 M1.6 -4 C2.4 -5.6 3.6 -6.2 5.5 -5.6"/><path transform="translate(18.00 0)" d="M2.2 -10 L2.2 -1.2 C2.2 0 3.4 0.2 5 -1 M0.2 -6 L4.4 -6"/><path transform="translate(23.00 0)" d="M0 -1 C2 -2 5 -3.5 5 -5 C5 -6.3 3.3 -6.6 2.3 -5.8 C0.8 -4.6 0.4 -1.8 1.6 -0.5 C2.6 0.5 4.6 0.1 6 -1"/><path transform="translate(32.20 0)" d="M6.8 -9.4 C5.8 -11.2 1.8 -11 2 -8.4 C2.2 -6.2 6.4 -5.4 6.4 -2.6 C6.4 -0.2 2.6 0.4 1.2 -1 C0.2 -2 1.4 -3.4 2.8 -2.6 C4.6 -1.6 6.6 -0.8 9 -1"/><path transform="translate(41.20 0)" d="M0.4 -6 C0.2 -3 0.6 0 2.2 0 C3.8 0 4.6 -3 4.6 -6 L4.6 2 C4.6 4 3.2 4.6 2.2 4.2 C1.2 3.8 2 2.2 4.6 1 C5.2 0.5 5.8 -0.4 6.5 -1"/><path transform="translate(47.70 0)" d="M5 -5 C4.2 -6.6 1.4 -6.4 0.8 -3.8 C0.4 -1.8 1.2 0 2.6 0 C4 0 4.8 -2 5 -4 L5 -10.5 L5 -1.2 C5 0 6 0.2 7 -1"/><path transform="translate(54.70 0)" d="M0 -1 C2 -2 5 -3.5 5 -5 C5 -6.3 3.3 -6.6 2.3 -5.8 C0.8 -4.6 0.4 -1.8 1.6 -0.5 C2.6 0.5 4.6 0.1 6 -1"/><path transform="translate(60.70 0)" d="M0 -1 C0.6 -2.5 1.2 -4.5 1.6 -6 L1.6 0 M1.6 -3.8 C2 -5.4 2.8 -6.2 3.6 -6 C4.5 -5.8 4.7 -4.6 4.7 -3.2 L4.7 0 M4.7 -3.8 C5.1 -5.4 5.9 -6.2 6.8 -6 C7.7 -5.8 7.9 -4.6 7.9 -3.2 L7.9 -1.2 C7.9 0 8.8 0.2 10 -1"/><path transform="translate(70.70 0)" d="M1.6 -11 L0.9 -8"/><path transform="translate(73.20 0)" d="M1.8 0 L1.8 -10 M0 -8.6 C1.8 -11 7.2 -11.2 7.2 -7.8 C7.2 -5.2 4.2 -4.8 1.8 -5.4"/><path transform="translate(81.20 0)" d="M5 -5 C4.2 -6.6 1.4 -6.4 0.8 -3.8 C0.4 -1.8 1.2 0 2.6 0 C4 0 4.8 -2 5 -4 L5 -6 L5 -1.2 C5 0 6 0.2 7 -1"/><path transform="translate(88.20 0)" d="M0 -1 C1.2 -2.5 2.4 -4.6 3 -6.4 C3.6 -4.4 4.8 -3 4.6 -1.4 C4.4 0.3 2 0.4 1.2 -0.6 M4.6 -1.2 C4.9 -0.5 5.2 -0.6 5.5 -1"/><path transform="translate(93.70 0)" d="M0 -1 C1.2 -2.5 2.4 -4.6 3 -6.4 C3.6 -4.4 4.8 -3 4.6 -1.4 C4.4 0.3 2 0.4 1.2 -0.6 M4.6 -1.2 C4.9 -0.5 5.2 -0.6 5.5 -1"/></g><g transform="translate(40.1 392.5) scale(1.4158 1.0)"><path transform="translate(0.00 0)" d="M0 -1 C2 -2 5 -3.5 5 -5 C5 -6.3 3.3 -6.6 2.3 -5.8 C0.8 -4.6 0.4 -1.8 1.6 -0.5 C2.6 0.5 4.6 0.1 6 -1"/><path transform="translate(6.00 0)" d="M2.2 -10 L2.2 -1.2 C2.2 0 3.4 0.2 5 -1 M0.2 -6 L4.4 -6"/><path transform="translate(14.20 0)" d="M0 -4.2 C0.5 -5.5 1 -6 1.6 -6 C1.8 -4 2.2 -1.4 3.2 0 C4.2 -1.2 5 -3.8 5 -6 C5.2 -5 5.8 -4.6 6.5 -4.6"/><path transform="translate(20.70 0)" d="M3 -6 C1.2 -6 0.5 -3.6 0.8 -2 C1 -0.5 2 0.1 3 0.1 C4.4 0.1 5 -2 5 -3.6 C5 -5.2 4 -6.3 3 -6 C3.8 -5 5 -4.6 6.5 -4.8"/><path transform="translate(27.20 0)" d="M2.2 -10 L2.2 -1.2 C2.2 0 3.4 0.2 5 -1 M0.2 -6 L4.4 -6"/><path transform="translate(32.20 0)" d="M0 -1 C0.6 -2.5 1.2 -4.5 1.6 -6 L1.6 0 M1.6 -4 C2.4 -5.6 3.6 -6.2 5.5 -5.6"/><path transform="translate(37.70 0)" d="M0 -1 C2 -2 5 -3.5 5 -5 C5 -6.3 3.3 -6.6 2.3 -5.8 C0.8 -4.6 0.4 -1.8 1.6 -0.5 C2.6 0.5 4.6 0.1 6 -1"/><path transform="translate(46.90 0)" d="M4.6 -5 C4 -6.6 1.4 -6.3 0.9 -4 C0.5 -2 1.4 0.1 3 0.1 C4 0.1 4.9 -0.4 5.5 -1"/><path transform="translate(52.40 0)" d="M5 -5 C4.2 -6.6 1.4 -6.4 0.8 -3.8 C0.4 -1.8 1.2 0 2.6 0 C4 0 4.8 -2 5 -4 L5 -6 L5 -1.2 C5 0 6 0.2 7 -1"/><path transform="translate(59.40 0)" d="M0 -1 C1 -4 1.6 -8 1.6 -9.8 C1.6 -11.2 0.9 -11 0.9 -9.6 L0.9 -1 C1 0 2 0.1 3 0.1 C4.4 0.1 5 -1.8 5 -3.4 C5 -5.4 3.4 -6.4 1.2 -4.8 M5 -4.8 C5.4 -4.9 6 -5 6.5 -5"/><path transform="translate(65.90 0)" d="M5 -5 C4.2 -6.6 1.4 -6.4 0.8 -3.8 C0.4 -1.8 1.2 0 2.6 0 C4 0 4.8 -2 5 -4 L5 -6 L5 -1.2 C5 0 6 0.2 7 -1"/><path transform="translate(72.90 0)" d="M0 -1 C1.2 -2.5 2.4 -4.6 3 -6.4 C3.6 -4.4 4.8 -3 4.6 -1.4 C4.4 0.3 2 0.4 1.2 -0.6 M4.6 -1.2 C4.9 -0.5 5.2 -0.6 5.5 -1"/></g></g>
<path fill="#5490c8" d="M4.6 367.3 L17 367.3 C19 372 22 381 31.8 384.6 C27 387 21 390 17 394 C14 397 12.5 399 11.8 400.1 L11 408.2 C12 411 13.5 413 14.8 413.4 C18 416 22 418 25.8 418.6 C30 420 33 421 35.5 422.3 C38 423.5 40 424.5 41.4 425 C45 428 50 432 53 436 L53 463.5 L4.6 463.5 Z"/>
<path fill="#3a3434" d="M4.8 401 C9 401.8 13 403 17 404.5 C20 405.5 23 406.3 25.6 407.2 L25.2 409.4 C21 409 17 408.4 13 407.8 C10 407.5 7 407.6 4.8 407.8 Z"/>
<path fill="#3a3434" d="M15.2 406.6 L18.4 406.2 C19.5 408.5 20.6 410.8 21.4 412.8 L19 414.2 C17.8 411.8 16.4 409 15.2 406.6 Z"/>
<path fill="#30894a" d="M35.9 412.3 C39 408 44 405.5 50 405.4 C55 405.2 59 405.8 61.2 408.3 C62 411 62.5 414 63.2 416.3 C66 417.5 70 418 72.5 418.9 C69 420 66.5 421 65.9 421.6 C62 424 59.9 427 57 431 L56 433 C58 437 63 441 66 443 C75 448 86 453 88.5 461.5 C89 467 86 471 81.8 472.1 C72 476 62 477 53.9 476.8 C42 477 30 475 23.3 472.1 C19 469 18 465 19.3 462.8 C21 457 25 453 29.9 450.9 C36 446 42 442 46 438 C49 436 50 434 50 433 C48 428 45 422 44.6 421.6 C41 418 38 415 35.9 412.3 Z"/>
<path fill="none" stroke="#3a3330" stroke-width="2.6" stroke-linecap="round" d="M50.5 433.5 C56 433.5 62 434 68 435"/>
<path fill="none" stroke="#3a3330" stroke-width="2.2" stroke-linecap="round" d="M61 434.5 C62 436 63 438 63.5 439.5"/>
</svg>

</div></body></html>
